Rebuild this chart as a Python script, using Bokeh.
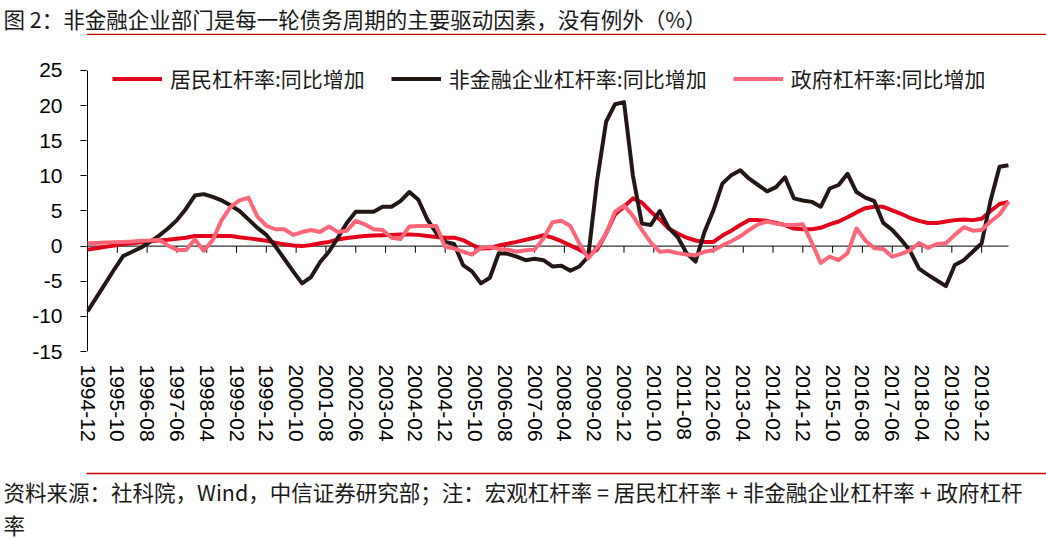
import pandas as pd
from bokeh.plotting import figure
from bokeh.models import (Range1d, FixedTicker, Span, Legend, LegendItem, Title, LinearAxis)
from bokeh.embed import file_html
from bokeh.resources import INLINE

TITLE = "图 2：非金融企业部门是每一轮债务周期的主要驱动因素，没有例外（%）"
FOOT1 = "资料来源：社科院，Wind，中信证券研究部；注：宏观杠杆率 = 居民杠杆率 + 非金融企业杠杆率 + 政府杠杆"
FOOT2 = "率"

series_names = ["居民杠杆率:同比增加", "非金融企业杠杆率:同比增加", "政府杠杆率:同比增加"]

# quarterly observations 1994Q4 .. 2020Q3
household = [-0.5, -0.3, -0.1, 0.1, 0.3, 0.4, 0.55, 0.7, 0.8, 0.9,
             1.05, 1.2, 1.45, 1.45, 1.45, 1.45, 1.45, 1.25, 1.1, 0.95,
             0.75, 0.5, 0.25, 0.1, 0.0, 0.15, 0.4, 0.6, 0.95, 1.15,
             1.3, 1.45, 1.5, 1.55, 1.6, 1.65, 1.65, 1.6, 1.45, 1.3,
             1.2, 1.2, 0.85, 0.2, -0.35, -0.3, 0.1, 0.35, 0.6, 0.9,
             1.2, 1.55, 1.2, 0.7, 0.1, -0.5, -1.2, -0.5, 1.8, 4.5,
             5.6, 6.8, 6.2, 4.9, 3.8, 2.5, 1.8, 1.2, 0.8, 0.6,
             0.6, 1.5, 2.2, 3.0, 3.7, 3.7, 3.6, 3.3, 3.0, 2.5,
             2.4, 2.4, 2.6, 3.1, 3.5, 4.1, 4.8, 5.4, 5.6, 5.6,
             5.1, 4.6, 4.0, 3.6, 3.3, 3.3, 3.5, 3.7, 3.8, 3.7,
             3.9, 5.0, 6.0, 6.3]
nonfin = [-9.3, -7.3, -5.3, -3.3, -1.4, -0.8, -0.2, 0.6, 1.5, 2.5,
          3.7, 5.3, 7.2, 7.4, 7.0, 6.5, 5.8, 5.0, 3.8, 2.6,
          1.6, 0.0, -1.8, -3.6, -5.3, -4.4, -2.3, -0.8, 1.2, 3.3,
          4.9, 4.9, 4.9, 5.6, 5.6, 6.4, 7.7, 6.6, 3.8, 1.9,
          0.6, 0.3, -2.7, -3.6, -5.3, -4.5, -1.0, -1.1, -1.5, -2.0,
          -1.8, -2.0, -2.9, -2.8, -3.5, -2.9, -1.5, 9.4, 17.7, 20.2,
          20.5, 10.0, 3.2, 3.0, 5.0, 2.6, 1.3, -1.0, -2.2, 2.0,
          5.1, 8.9, 10.1, 10.8, 9.6, 8.7, 7.8, 8.4, 9.8, 6.8,
          6.5, 6.3, 5.6, 8.2, 8.7, 10.3, 7.7, 6.9, 6.4, 3.3,
          2.3, 0.9, -0.7, -3.2, -4.1, -4.9, -5.7, -2.7, -2.0, -0.8,
          0.4, 6.5, 11.3, 11.5]
government = [0.4, 0.45, 0.5, 0.55, 0.6, 0.65, 0.75, 0.8, 0.9, 0.1,
              -0.55, -0.55, 0.95, -0.65, 0.85, 3.7, 5.6, 6.5, 6.9, 4.2,
              2.9, 2.4, 2.4, 1.6, 2.0, 2.3, 2.0, 2.8, 2.0, 2.2,
              3.6, 3.1, 2.4, 2.3, 1.2, 1.0, 2.8, 2.85, 2.85, 2.85,
              -0.1, -0.35, -0.8, -1.2, -0.25, -0.1, -0.4, -0.5, -0.8, -0.6,
              -0.5, 1.1, 3.4, 3.6, 2.85, 0.4, -1.75, -0.2, 1.8, 4.9,
              5.8, 4.3, 2.3, 0.5, -0.8, -0.7, -1.0, -1.2, -1.3, -0.8,
              -0.6, 0.1, 0.7, 1.4, 2.3, 3.1, 3.5, 3.2, 3.0, 3.0,
              3.1, 0.5, -2.4, -1.5, -2.0, -1.0, 2.5, 0.8, -0.3, -0.4,
              -1.5, -1.1, -0.6, 0.45, -0.25, 0.3, 0.4, 1.6, 2.7, 2.2,
              2.3, 3.5, 4.5, 6.3]

tick_labels = ["1994-12", "1995-10", "1996-08", "1997-06", "1998-04", "1999-02",
               "1999-12", "2000-10", "2001-08", "2002-06", "2003-04", "2004-02",
               "2004-12", "2005-10", "2006-08", "2007-06", "2008-04", "2009-02",
               "2009-12", "2010-10", "2011-08", "2012-06", "2013-04", "2014-02",
               "2014-12", "2015-10", "2016-08", "2017-06", "2018-04", "2019-02",
               "2019-12"]
y_ticks = [-15, -10, -5, 0, 5, 10, 15, 20, 25]
y_tick_labels = ["-15", "-10", "-5", "0", "5", "10", "15", "20", "25"]

# month index (months since 1994-12) for each quarterly observation
periods = pd.period_range("1994Q4", periods=len(household), freq="Q")
months = [(pr.year - 1994) * 12 + pr.quarter * 3 - 12 for pr in periods]


def month_index(lbl):
    y, m = lbl.split("-")
    return (int(y) - 1994) * 12 + int(m) - 12


x_ticks = [month_index(t) for t in tick_labels]

CJK = "Noto Sans CJK SC"
NUM = "Liberation Sans"
W, H = 1046, 539
BL, BT, BB = 86, 33, 188            # frame: x 86..1046, y 33..351
PX_X = 920.0 / months[-1]           # pixels per month in the reference
PX_Y = 7.03                         # pixels per percentage point
x_end = (W - BL - 1) / PX_X - 0.34
y_top = 25 + (70 - BT) / PX_Y

p = figure(width=W, height=H, x_range=Range1d(-0.34, x_end), y_range=Range1d(-15, y_top),
           toolbar_location=None, output_backend="svg",
           min_border_left=BL, min_border_right=0, min_border_top=BT, min_border_bottom=BB)
p.grid.visible = False
p.outline_line_color = None
p.background_fill_color = "white"
p.border_fill_color = "white"

# title above the plot
p.title.text = TITLE
p.title.align = "left"
p.title.offset = 3 - BL
p.title.standoff = 0
p.title.text_font = CJK
p.title.text_font_size = "21.5px"
p.title.text_font_style = "normal"
p.title.text_color = "#1a1a1a"

# red rule under the title (top edge of the frame)
p.add_layout(Span(location=y_top - 0.12, dimension="width", line_color="#C00000", line_width=1.5))

# value axis spine (from -15 to 25) and zero line with its tick marks
p.segment(x0=[0], x1=[0], y0=[y_ticks[0]], y1=[y_ticks[-1]], line_color="black", line_width=1)
p.segment(x0=[0], x1=[months[-1]], y0=[0], y1=[0], line_color="black", line_width=1)
p.segment(x0=x_ticks, x1=x_ticks, y0=[0] * len(x_ticks), y1=[-0.95] * len(x_ticks),
          line_color="black", line_width=1)

r_h = p.line(months, household, line_color="#E2001A", line_width=4, line_join="round")
r_n = p.line(months, nonfin, line_color="#231815", line_width=4, line_join="round")
r_g = p.line(months, government, line_color="#FF6679", line_width=4, line_join="round")

yax = p.yaxis[0]
yax.ticker = FixedTicker(ticks=y_ticks)
yax.major_label_overrides = {t: l for t, l in zip(y_ticks, y_tick_labels)}
yax.major_tick_out = 6
yax.major_tick_in = 0
yax.minor_tick_line_color = None
yax.axis_line_color = None
yax.major_tick_line_color = "black"
yax.major_label_text_font = NUM
yax.major_label_text_font_size = "21px"
yax.major_label_text_color = "black"
yax.major_label_standoff = 18

xax = p.xaxis[0]
xax.ticker = FixedTicker(ticks=x_ticks)
xax.major_label_overrides = {t: l for t, l in zip(x_ticks, tick_labels)}
xax.major_label_orientation = "vertical"
xax.axis_line_color = None
xax.major_tick_line_color = None
xax.minor_tick_line_color = None
xax.major_tick_out = 0
xax.major_tick_in = 0
xax.major_label_standoff = 13
xax.major_label_text_font = NUM
xax.major_label_text_font_size = "21px"
xax.major_label_text_color = "black"

legend = Legend(items=[LegendItem(label=series_names[0], renderers=[r_h]),
                       LegendItem(label=series_names[1], renderers=[r_n]),
                       LegendItem(label=series_names[2], renderers=[r_g])],
                orientation="horizontal", location=(26, 258),
                glyph_width=50, glyph_height=21, label_height=21,
                label_standoff=8, spacing=26, padding=0, margin=0,
                border_line_color=None, background_fill_alpha=0,
                label_text_font=CJK, label_text_font_size="21px",
                label_text_color="#1a1a1a")
p.add_layout(legend, "center")

# ---- footer: invisible spacer (one white tick), red rule, two lines of source text ----
spacer = LinearAxis(ticker=FixedTicker(ticks=[0]), major_label_overrides={0: ""},
                    axis_line_color=None, major_tick_out=29, major_tick_in=0,
                    major_tick_line_color="white", minor_tick_line_color=None,
                    major_label_text_font_size="1px", major_label_standoff=0)
rule = LinearAxis(ticker=FixedTicker(ticks=[]), axis_line_color="#C00000", axis_line_width=1.5,
                  major_tick_out=0, major_tick_in=0, major_tick_line_color=None,
                  minor_tick_line_color=None, major_label_text_font_size="0px",
                  major_label_standoff=0)
p.add_layout(spacer, "below")
p.add_layout(rule, "below")
p.add_layout(Title(text=FOOT1, align="left", offset=3 - BL, standoff=0,
                   text_font=CJK, text_font_size="21.5px", text_font_style="normal",
                   text_color="#1a1a1a"), "below")
p.add_layout(Title(text=FOOT2, align="left", offset=3 - BL, standoff=0,
                   text_font=CJK, text_font_size="21.5px", text_font_style="normal",
                   text_color="#1a1a1a"), "below")

open("out.html", "w").write(file_html(p, INLINE))
